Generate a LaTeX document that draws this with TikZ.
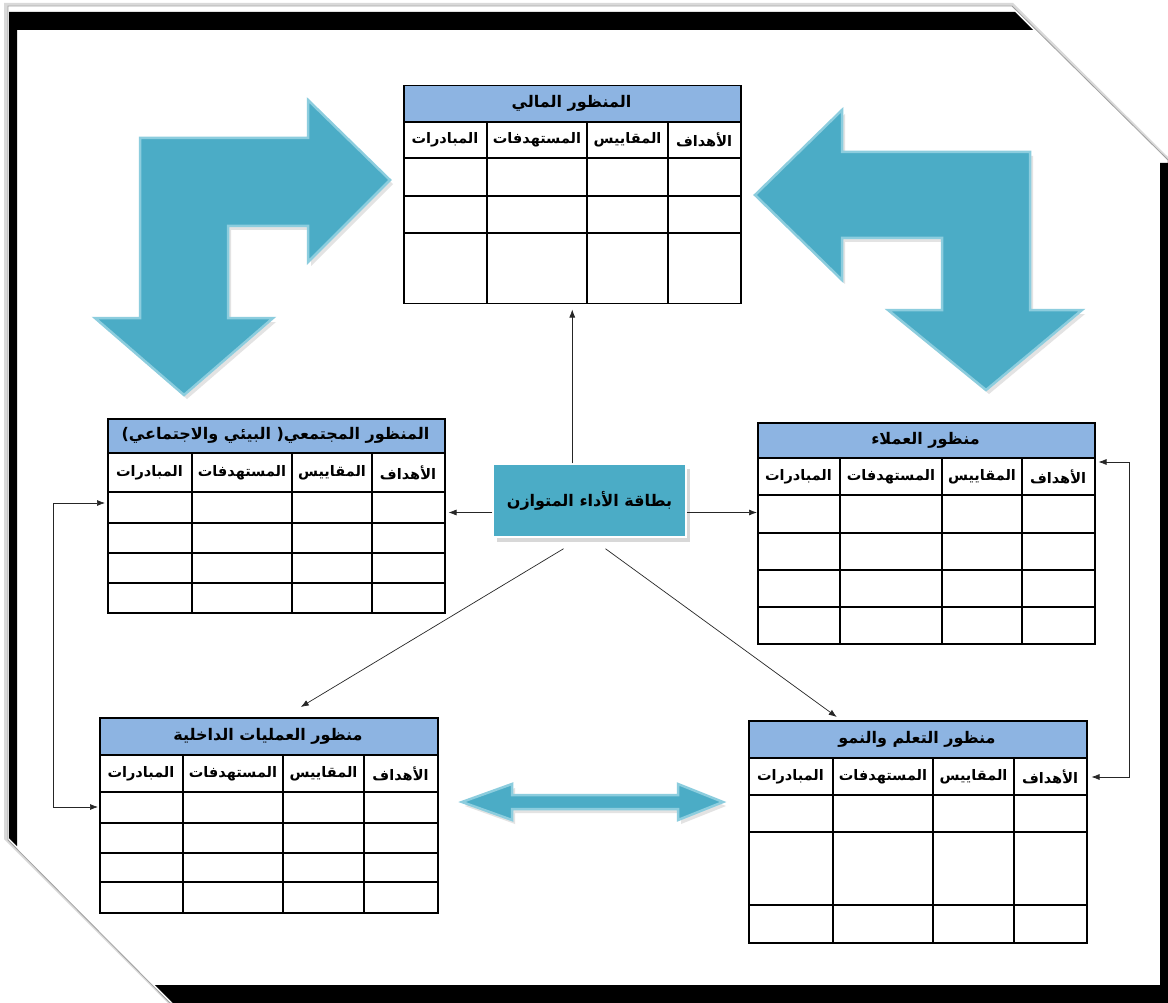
\documentclass[tikz,border=0pt]{standalone}
\usepackage{fontspec}
\newfontfamily\arabicfont[Script=Arabic]{DejaVu Sans}
\TeXXeTstate=1
\usetikzlibrary{arrows.meta,shadows,calc}
\definecolor{hdrblue}{RGB}{141,180,226}
\definecolor{tealA}{RGB}{75,172,198}
\definecolor{tealB}{RGB}{140,205,222}
\newcommand\artext[1]{{\arabicfont\bfseries #1}}
\tikzset{
  tline/.style={line width=1.3pt, black},
  tabbox/.style={draw, line width=1.5pt, inner sep=0pt},
  ttl/.style={font=\fontsize{16}{19}\selectfont, inner sep=0pt},
  colh/.style={font=\fontsize{14.5}{17}\selectfont, inner sep=0pt},
  conn/.style={line width=0.7pt, draw=black!85, -{Latex[length=8pt,width=6pt]}},
  bigarrow/.style={fill=tealA, draw=tealB, line width=2.5pt, line join=miter},
  arrshadow/.style={fill=gray!22},
  bscbox/.style={fill=tealA, draw=white, line width=1.5pt, minimum width=193pt, minimum height=73pt,
    font=\fontsize{16}{19}\selectfont,
    drop shadow={shadow xshift=4pt, shadow yshift=-5pt, fill=gray!60}},
}
% #1 name #2 x1 #3 y1 #4 x2 #5 y2 #6 header bottom #7 column-header bottom #8 title
\newcommand\ptab[8]{%
  \fill[hdrblue] (#2,#3) rectangle (#4,#6);
  \node[tabbox, minimum width={(#4-#2)*1pt}, minimum height={(#5-#3)*1pt}, anchor=north west] (#1) at (#2,#3) {};
  \node[ttl] (#1-t) at ({(#2+#4)/2},{(#3+#6)/2}) {\artext{#8}};
  \draw[tline] (#2,#6) -- (#4,#6) (#2,#7) -- (#4,#7);
}
% #1 name #2 x1 #3 c1 #4 c2 #5 c3 #6 x2 #7 hb #8 cb #9 y2
\newcommand\pcols[9]{%
  \draw[tline] (#3,#7) -- (#3,#9) (#4,#7) -- (#4,#9) (#5,#7) -- (#5,#9);
  \node[colh] (#1-c1) at ({(#2+#3)/2},{(#7+#8)/2}) {\artext{\beginR المبادرات\endR}};
  \node[colh] (#1-c2) at ({(#3+#4)/2},{(#7+#8)/2}) {\artext{\beginR المستهدفات\endR}};
  \node[colh] (#1-c3) at ({(#4+#5)/2},{(#7+#8)/2}) {\artext{\beginR المقاييس\endR}};
  \node[colh] (#1-c4) at ({(#5+#6)/2},{(#7+#8)/2}) {\artext{\beginR الأهداف\endR}};
}
\newcommand\prows[3]{\foreach \yy in {#3} {\draw[tline] (#1,\yy) -- (#2,\yy);}}
\newcommand\shp[1]{\fill[arrshadow, xshift=3pt, yshift=-4pt] #1; \filldraw[bigarrow] #1;}

\begin{document}
\begin{tikzpicture}[x=1pt,y=-1pt]
\useasboundingbox (0,0) rectangle (1168,1003);
\fill[white] (0,0) rectangle (1168,1003);
% page with cut corners
\fill[gray!30] (4,3) -- (1013,3) -- (1168,157) -- (1168,1003) -- (168,1003) -- (4,839) -- cycle;
\filldraw[fill=white, draw=gray!75, line width=0.8pt] (8,6) -- (1012,6) -- (1168,160) -- (1168,1003) -- (170,1003) -- (8,840) -- cycle;
% black frame bands
\fill[black] (9,12) -- (1015,12) -- (1033,30) -- (17,30) -- (17,846) -- (9,838) -- cycle;
\fill[black] (155,985) -- (1160,985) -- (1160,163) -- (1168,163) -- (1168,1003) -- (173,1003) -- cycle;

% big arrows
\shp{(390,180) -- (308,100) -- (308,138) -- (140,138) -- (140,318) -- (95,318) -- (184,395) -- (273,318) -- (228,318) -- (228,226) -- (308,226) -- (308,262) -- cycle}
\shp{(755,195) -- (842,110) -- (842,152) -- (1030,152) -- (1030,310) -- (1082,310) -- (986,390) -- (888,310) -- (942,310) -- (942,238) -- (842,238) -- (842,280) -- cycle}
\shp{(462,802) -- (512,784) -- (512,795) -- (678,795) -- (678,784) -- (723,802) -- (678,820) -- (678,809) -- (512,809) -- (512,820) -- cycle}

% tables
\ptab{fin}{403}{85}{740}{303}{122}{158}{\beginR المنظور المالي\endR}
\pcols{fin}{403}{487}{587}{668}{740}{122}{158}{303}
\prows{403}{740}{196,233}

\ptab{soc}{107}{418}{444}{612}{453}{492}{\beginR المنظور المجتمعي( البيئي والاجتماعي)\endR}
\pcols{soc}{107}{192}{292}{372}{444}{453}{492}{612}
\prows{107}{444}{523,553,583}

\ptab{cust}{757}{422}{1094}{643}{458}{495}{\beginR منظور العملاء\endR}
\pcols{cust}{757}{840}{942}{1022}{1094}{458}{495}{643}
\prows{757}{1094}{533,570,607}

\ptab{int}{99}{717}{437}{912}{755}{792}{\beginR منظور العمليات الداخلية\endR}
\pcols{int}{99}{183}{283}{364}{437}{755}{792}{912}
\prows{99}{437}{823,853,882}

\ptab{lg}{748}{720}{1086}{942}{758}{795}{\beginR منظور التعلم والنمو\endR}
\pcols{lg}{748}{833}{933}{1014}{1086}{758}{795}{942}
\prows{748}{1086}{832,905}

% central node
\node[bscbox] (bsc) at (589.5,500.5) {\artext{\beginR بطاقة الأداء المتوازن\endR}};

% connectors
\draw[conn] (bsc.north -| fin.south) -- ([yshift=-5pt]fin.south);
\draw[conn] ([yshift=-12pt]bsc.west) -- ([yshift=-12pt,xshift=3pt]bsc.west -| soc.east);
\draw[conn] ([yshift=-12pt]bsc.east) -- ([yshift=-12pt]bsc.east -| cust.west);
\draw[conn] ([xshift=-26pt,yshift=-11pt]bsc.south) -- ([xshift=32pt,yshift=10pt]int.north);
\draw[conn] ([xshift=16pt,yshift=-11pt]bsc.south) -- ([xshift=-81pt,yshift=3pt]lg.north);
\draw[conn, {Latex[length=8pt,width=6pt]}-{Latex[length=8pt,width=6pt]}]
  ([yshift=-40pt,xshift=3pt]cust.north east) -- ++(31pt,0) |- ([yshift=-57pt,xshift=4pt]lg.north east);
\draw[conn, {Latex[length=8pt,width=6pt]}-{Latex[length=8pt,width=6pt]}]
  ([yshift=-85pt,xshift=-2pt]soc.north west) -- ++(-52pt,0) |- ([yshift=-90pt,xshift=-1pt]int.north west);
\end{tikzpicture}
\end{document}
